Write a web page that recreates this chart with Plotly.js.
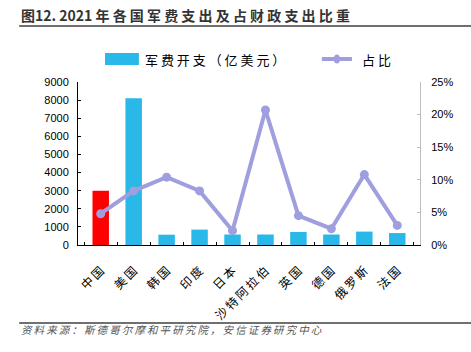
<!DOCTYPE html>
<html><head><meta charset="utf-8">
<script src="https://cdn.plot.ly/plotly-3.0.1.min.js"></script>
<style>html,body{margin:0;padding:0;background:#fff;}#chart{width:471px;height:352px;}</style>
</head><body><div id="chart"></div>
<script>
const countries = ['中国','美国','韩国','印度','日本','沙特阿拉伯','英国','德国','俄罗斯','法国'];
const spending = [3000, 8100, 570, 850, 580, 580, 720, 580, 740, 660];
const share = [4.8, 8.3, 10.4, 8.3, 2.2, 20.7, 4.5, 2.5, 10.8, 3.0];
const barColors = ['#ff0000','#29b8e8','#29b8e8','#29b8e8','#29b8e8','#29b8e8','#29b8e8','#29b8e8','#29b8e8','#29b8e8'];
const leftTicks = [0,1000,2000,3000,4000,5000,6000,7000,8000,9000];
const rightTicks = [0,5,10,15,20,25];

const cjk = '"Noto Sans CJK SC", "Liberation Sans", sans-serif';
const num = '"Liberation Sans", Arial, sans-serif';
const sp = s => s.split('').join('\u2009');

const traces = [
  {type:'bar', x:countries, y:spending, name:'军费开支（亿美元）', marker:{color:barColors}, width:0.5, yaxis:'y', showlegend:false},
  {type:'scatter', mode:'lines+markers', x:countries, y:share, name:'占比', yaxis:'y2',
   line:{color:'#9f9fe0', width:4}, marker:{color:'#9f9fe0', size:9}, showlegend:false}
];

const layout = {
  width:471, height:352,
  margin:{l:78, r:51, t:82, b:107},
  paper_bgcolor:'#fff', plot_bgcolor:'#fff',
  font:{family:cjk, color:'#000', size:11},
  xaxis:{type:'category', showline:true, linecolor:'#000', linewidth:1, ticks:'inside', ticklen:3, tickcolor:'#000',
         tickson:'boundaries', tickangle:-45, tickvals:countries, ticktext:countries.map(sp),
         tickfont:{family:cjk, size:12, color:'#000'}, ticklabelstandoff:13, showgrid:false, zeroline:false, fixedrange:true},
  yaxis:{range:[0,9000], tickvals:leftTicks, ticktext:leftTicks.map(String), showline:true, linecolor:'#000', linewidth:1,
         ticks:'inside', ticklen:3, tickcolor:'#000', showgrid:false, zeroline:false,
         tickfont:{family:num, size:11, color:'#000'}, ticklabelstandoff:6},
  yaxis2:{range:[0,25], tickvals:rightTicks, ticktext:rightTicks.map(v=>v+'%'), overlaying:'y', side:'right',
          showline:true, linecolor:'#bfbfbf', linewidth:1, ticks:'inside', ticklen:3, tickcolor:'#bfbfbf',
          showgrid:false, zeroline:false, tickfont:{family:num, size:11, color:'#000'}, ticklabelstandoff:8},
  shapes:[
    {type:'line', xref:'paper', yref:'paper', x0:-0.172, x1:1.2, y0:1.344, y1:1.344, line:{color:'#404040', width:1.5}},
    {type:'rect', xref:'paper', yref:'paper', x0:0.079, x1:0.178, y0:1.104, y1:1.178, fillcolor:'#29b8e8', line:{width:0}},
    {type:'line', xref:'paper', yref:'paper', x0:0.713, x1:0.801, y0:1.141, y1:1.141, line:{color:'#9f9fe0', width:4}},
    {type:'circle', xref:'paper', yref:'paper', x0:0.748, x1:0.766, y0:1.113, y1:1.169, fillcolor:'#9f9fe0', line:{width:0}},
    {type:'line', xref:'paper', yref:'paper', x0:-0.172, x1:1.2, y0:-0.479, y1:-0.479, line:{color:'#404040', width:1.5}}
  ],
  annotations:[
    {xref:'paper', yref:'paper', x:-0.172, y:1.41, xanchor:'left', yanchor:'middle', showarrow:false,
     text:'<b>图12. 2021 年 各 国 军 费 支 出 及 占 财 政 支 出 比 重</b>', font:{family:cjk, size:14, color:'#333'}},
    {xref:'paper', yref:'paper', x:0.19, y:1.141, xanchor:'left', yanchor:'middle', showarrow:false,
     text:'军 费 开 支 （ 亿 美 元 ）', font:{family:cjk, size:13, color:'#000'}},
    {xref:'paper', yref:'paper', x:0.825, y:1.141, xanchor:'left', yanchor:'middle', showarrow:false,
     text:'占 比', font:{family:cjk, size:13, color:'#000'}},
    {xref:'paper', yref:'paper', x:-0.172, y:-0.52, xanchor:'left', yanchor:'middle', showarrow:false,
     text:'<i>'+sp('资料来源：斯德哥尔摩和平研究院，安信证券研究中心')+'</i>', font:{family:cjk, size:10.5, color:'#555'}}
  ]
};

Plotly.newPlot('chart', traces, layout, {displayModeBar:false, staticPlot:true});
</script></body></html>
